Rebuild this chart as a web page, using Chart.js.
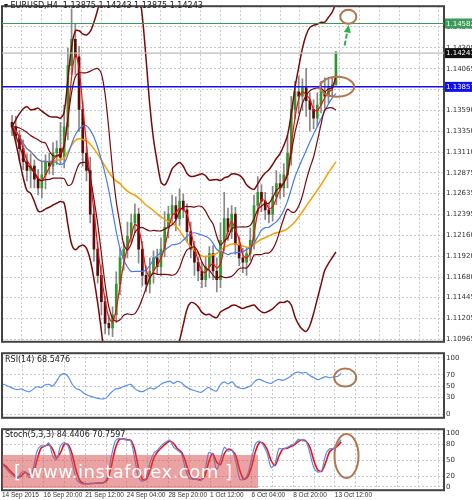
<!DOCTYPE html>
<html><head><meta charset="utf-8">
<script src="https://cdn.jsdelivr.net/npm/chart.js@4"></script>
<style>
body{margin:0;background:#fff;font-family:"DejaVu Sans",sans-serif}
.p{position:absolute;left:0;width:472px}
#wm{position:absolute;left:2px;top:455px;width:256px;height:33px;background:rgba(214,70,70,0.5);color:#fff;font:18px "DejaVu Sans";line-height:33px;white-space:nowrap;padding-left:12px;box-sizing:border-box;letter-spacing:0.5px}
#title{position:absolute;left:4px;top:1px;font:8px "DejaVu Sans";color:#222}
</style></head><body>
<div class="p" style="top:0;height:348px"><canvas id="main"></canvas></div>
<div class="p" style="top:347px;height:77px"><canvas id="rsi"></canvas></div>
<div class="p" style="top:423px;height:77px"><canvas id="sto"></canvas></div>
<div id="wm">[ www.instaforex.com ]</div>
<div id="title">▾ EURUSD,H4&nbsp; 1.13875 1.14243 1.13875 1.14243</div>
<script>
// Cierres aproximados (cada vela = 1.5 barras H4)
const cierres = [1.1340,1.1330,1.1315,1.1300,1.1290,1.1295,1.1280,1.1270,1.1285,1.1300,1.1295,1.1310,1.1315,1.1305,1.1340,1.1410,1.1440,1.1420,1.1360,1.1310,
1.1290,1.1240,1.1200,1.1170,1.1140,1.1115,1.1110,1.1125,1.1160,1.1190,1.1200,1.1215,1.1230,1.1240,1.1200,1.1170,1.1160,1.1175,1.1190,1.1180,
1.1200,1.1225,1.1240,1.1250,1.1235,1.1255,1.1245,1.1220,1.1200,1.1185,1.1175,1.1165,1.1180,1.1195,1.1175,1.1165,1.1210,1.1235,1.1220,1.1240,
1.1205,1.1190,1.1185,1.1195,1.1210,1.1250,1.1265,1.1255,1.1245,1.1240,1.1260,1.1275,1.1270,1.1285,1.1310,1.1360,1.1380,1.1375,1.1385,1.1370,
1.1360,1.1350,1.1365,1.1380,1.1375,1.1385,1.1388,1.14243];
const mechaArriba = [8,12,6,10,9,14,7,11,15,8,10,12,9,30,25,20,35,18,12,10,8,15,10,8,12,6,10,9,14,11,8,16,10,12,7,9,11,15,8,10,13,18,9,12,10,14,8,7,11,9,6,10,12,8,9,15,20,30,12,10,8,9,11,7,14,12,18,9,10,8,12,15,11,13,20,15,12,18,10,22,9,11,14,12,16,10,8,2];
const mechaAbajo = [10,8,14,9,12,20,10,8,11,16,9,10,13,8,12,15,10,20,25,15,12,10,14,9,15,12,8,10,9,12,14,10,8,11,16,12,9,10,14,8,11,9,12,10,14,8,9,12,10,15,11,9,8,13,10,14,9,12,10,8,11,9,12,15,8,10,9,12,11,10,8,9,12,10,15,14,11,20,16,18,25,12,10,9,14,8,10,0];
const aperturaInicial = 1.1345;
const ticksPrecio = [1.14545,1.14305,1.14065,1.13825,1.13590,1.13350,1.13110,1.12875,1.12635,1.12395,1.12160,1.11920,1.11680,1.11445,1.11205,1.10965];
const etiquetasTiempo = ["14 Sep 2015","16 Sep 20:00","21 Sep 12:00","24 Sep 04:00","28 Sep 20:00","1 Oct 12:00","6 Oct 04:00","8 Oct 20:00","13 Oct 12:00"];
const niveles = [[1.14582,'#3a9a5a','#fff'],[1.14243,'#111','#fff'],[1.13857,'#1010ee','#fff']];

const paso = 1.5, XMAX = 170;
const xs = cierres.map((_, i) => i * paso);
const aperturas = cierres.map((c, i) => i ? cierres[i-1] : aperturaInicial);
const altos = cierres.map((c, i) => Math.max(c, aperturas[i]) + mechaArriba[i] / 10000);
const bajos = cierres.map((c, i) => Math.min(c, aperturas[i]) - mechaAbajo[i] / 10000);

function sma(a, n){ return a.map((_, i) => { const s = a.slice(Math.max(0, i-n+1), i+1); return s.reduce((p,q)=>p+q,0)/s.length; }); }
function banda(a, n, k, sign){ const m = sma(a, n); return a.map((_, i) => { const s = a.slice(Math.max(0,i-n+1), i+1); const v = s.reduce((p,q)=>p+(q-m[i])**2,0)/s.length; return m[i] + sign*k*Math.sqrt(v); }); }
const pts = a => a.map((y, i) => ({x: xs[i], y}));

// RSI y estocástico a partir de los cierres
const rsi = (() => { let g = 0.0012, l = 0.0010; const out = [55]; for (let i = 1; i < cierres.length; i++) { const d = cierres[i]-cierres[i-1]; g = (g*9 + Math.max(d,0))/10; l = (l*9 + Math.max(-d,0))/10; out.push(100 - 100/(1+g/l)); } return out.map(v => 50 + (v-50)*0.8); })();
const kRaw = cierres.map((c, i) => { const hh = Math.max(...altos.slice(Math.max(0,i-3), i+1)), ll = Math.min(...bajos.slice(Math.max(0,i-3), i+1)); return 100*(c-ll)/(hh-ll); });
const kLine = sma(kRaw, 2), dLine = sma(kLine, 2);

const gridX = {min:0, max:XMAX, grid:{color:'#c8c8c8', tickBorderDash:[2,2], drawTicks:false}, border:{display:false, dash:[2,2]},
  afterBuildTicks: s => { s.ticks = []; for (let v = 0; v <= XMAX; v += 8) s.ticks.push({value:v}); }};
function yAxis(ticks, min, max){ return {position:'right', min, max, afterFit: s => { s.width = 28; },
  afterBuildTicks: s => { s.ticks = ticks.map(v => ({value:v})); },
  ticks:{font:{size:7, family:'DejaVu Sans'}, color:'#333', padding:2, callback: v => min > 1 ? v.toFixed(5) : v},
  grid:{color:'#c8c8c8', drawTicks:false}, border:{display:false, dash:[2,2]}}; }
const marco = {id:'marco', afterDraw(c){ const a = c.chartArea, x = c.ctx; x.save(); x.strokeStyle='#444'; x.lineWidth=2; x.strokeRect(a.left, a.top, a.right-a.left, a.bottom-a.top); x.restore(); }};
function elipse(c, bx, v, rx, ry){ const x = c.ctx; x.save(); x.strokeStyle='#b07850'; x.lineWidth=2; x.beginPath(); x.ellipse(c.scales.x.getPixelForValue(bx), c.scales.y.getPixelForValue(v), rx, ry, 0, 0, 7); x.stroke(); x.restore(); }
const lin = (data, color, w) => ({type:'line', data, borderColor:color, borderWidth:w||1.2, pointRadius:0, tension:0.3, order:0});
const base = {responsive:true, maintainAspectRatio:false, animation:false, plugins:{legend:{display:false}, tooltip:{enabled:false}}};

new Chart(document.getElementById('main'), {
  type:'bar',
  data:{datasets:[
    {data: xs.map((x,i)=>({x, y:[bajos[i], altos[i]]})), backgroundColor:'#888', barThickness:1, grouped:false, order:3},
    {data: xs.map((x,i)=>({x, y:[aperturas[i], cierres[i]]})), backgroundColor: cierres.map((c,i)=>c>=aperturas[i]?'#2e9a2e':'#5a0a0a'), barThickness:2, grouped:false, order:2},
    lin(pts(banda(cierres,20,2.6,1)), '#7a0a0a', 1.5), lin(pts(banda(cierres,20,2.6,-1)), '#7a0a0a', 1.5),
    lin(pts(banda(cierres,10,1,1)), '#7a0a0a'), lin(pts(banda(cierres,10,1,-1)), '#7a0a0a'),
    lin(pts(sma(cierres,3)), '#f01010'), lin(pts(sma(cierres,12)), '#4a7ae8'), lin(pts(sma(cierres,30)), '#f5a000', 1.5)
  ]},
  options:{...base, layout:{padding:{left:2, top:2, bottom:0}}, scales:{x:{type:'linear', ...gridX, ticks:{display:false}}, y:yAxis(ticksPrecio, 1.1094, 1.1478)}},
  plugins:[marco, {id:'lv', afterDraw(c){ const x = c.ctx, a = c.chartArea;
    niveles.forEach(([v, col, tc], k) => { const y = c.scales.y.getPixelForValue(v); x.save(); x.strokeStyle = k==1?'#bbb':col; x.lineWidth = k==2?1.5:1.2; x.beginPath(); x.moveTo(a.left,y); x.lineTo(a.right,y); x.stroke();
      x.fillStyle=col; x.fillRect(a.right+1, y-5, 27, 10); x.fillStyle=tc; x.font='7px DejaVu Sans'; x.textBaseline='middle'; x.fillText(v.toFixed(5), a.right+2, y+0.5); x.restore(); });
    elipse(c, 131, 1.13857, 17, 10); elipse(c, 135.5, 1.1466, 8, 7);
    const sx = c.scales.x, sy = c.scales.y; x.save(); x.strokeStyle='#2bb04a'; x.fillStyle='#2bb04a'; x.lineWidth=2; x.setLineDash([5,2]);
    const x0 = sx.getPixelForValue(134), y0 = sy.getPixelForValue(1.1433), x1 = sx.getPixelForValue(135.3), y1 = sy.getPixelForValue(1.1452);
    x.beginPath(); x.moveTo(x0,y0); x.lineTo(x1,y1); x.stroke(); x.setLineDash([]); x.beginPath(); x.moveTo(x1+1,y1-4); x.lineTo(x1-4,y1+3); x.lineTo(x1+3,y1+4); x.fill(); x.restore(); }}]
});

new Chart(document.getElementById('rsi'), {
  type:'line', data:{datasets:[lin(pts(rsi), '#5a8ef0')]},
  options:{...base, layout:{padding:{left:2, top:2, bottom:2}}, scales:{x:{type:'linear', ...gridX, ticks:{display:false}}, y:yAxis([100,70,50,30,0], -6, 108)}},
  plugins:[marco, {id:'t', afterDraw(c){ const x=c.ctx; x.save(); x.font='8px DejaVu Sans'; x.fillStyle='#222'; x.fillText('RSI(14) 68.5476', 5, 15); x.restore(); elipse(c, 132, 65, 11, 9); }}]
});

new Chart(document.getElementById('sto'), {
  type:'line', data:{datasets:[lin(pts(kLine), '#5a8ef0'), lin(pts(dLine), '#f01010', 1.6)]},
  options:{...base, layout:{padding:{left:2, top:2, bottom:0}}, scales:{x:{type:'linear', ...gridX, position:'bottom',
    ticks:{display:true, autoSkip:false, maxRotation:0, font:{size:6.5, family:'Liberation Sans'}, color:'#333', padding:1, align:'start', callback: v => (v % 16 === 0 && v/16 < etiquetasTiempo.length) ? etiquetasTiempo[v/16] : ''}},
    y:yAxis([100,80,50,20,0], -6, 108)}},
  plugins:[marco, {id:'t', afterDraw(c){ const x=c.ctx; x.save(); x.font='8px DejaVu Sans'; x.fillStyle='#222'; x.fillText('Stoch(5,3,3) 84.4406 70.7597', 5, 14); x.restore(); elipse(c, 132.5, 58, 12, 22); }}]
});
</script></body></html>
